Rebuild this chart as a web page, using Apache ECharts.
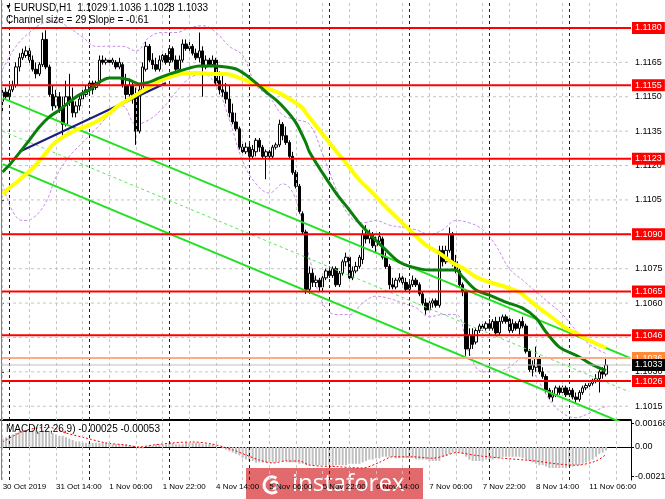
<!DOCTYPE html>
<html><head><meta charset="utf-8">
<script src="https://cdn.jsdelivr.net/npm/echarts@6.0.0/dist/echarts.min.js"></script>
<style>html,body{margin:0;padding:0;background:#fff;overflow:hidden}#chart{width:665px;height:499px}</style>
</head><body><div id="chart"></div>
<script>
const FONT = "'Liberation Sans',sans-serif";
const tickLabels = ['30 Oct 2019','31 Oct 14:00','1 Nov 06:00','1 Nov 22:00','4 Nov 14:00','5 Nov 06:00','5 Nov 22:00','6 Nov 14:00','7 Nov 06:00','7 Nov 22:00','8 Nov 14:00','11 Nov 06:00'];
const priceTicks = [1.1015,1.1030,1.1045,1.1060,1.1075,1.1090,1.1105,1.1120,1.1135,1.1150,1.1165,1.1180];
const macdTicks = [0.00168, 0, -0.00211];
const levels = [1.1180,1.1155,1.1123,1.1090,1.1065,1.1046,1.1026];
const channelLevel = 1.1036;
const lastPrice = 1.1033;
const dayStarts = [2,26,50,74,98,122,146,170];
const gridBars = [0,8,16,24,32,40,48,56,64,72,80,88,96,104,112,120,128,136,144,152,160,168,176,184];

const opens = [1.1148,1.1152,1.1150,1.1153,1.1155,1.1163,1.1167,1.1168,1.1170,1.1166,
1.1162,1.1160,1.1164,1.1175,1.1163,1.1151,1.1146,1.1150,1.1145,1.1138,
1.1150,1.1148,1.1143,1.1146,1.1149,1.1151,1.1153,1.1156,1.1154,1.1156,
1.1166,1.1165,1.1166,1.1165,1.1165,1.1163,1.1164,1.1155,1.1151,1.1155,
1.1150,1.1135,1.1153,1.1162,1.1172,1.1166,1.1164,1.1162,1.1166,1.1168,
1.1165,1.1171,1.1166,1.1162,1.1166,1.1173,1.1171,1.1172,1.1169,1.1167,
1.1170,1.1163,1.1166,1.1164,1.1166,1.1157,1.1153,1.1152,1.1149,1.1143,
1.1139,1.1136,1.1128,1.1126,1.1128,1.1124,1.1126,1.1131,1.1128,1.1124,
1.1126,1.1124,1.1128,1.1129,1.1138,1.1133,1.1130,1.1124,1.1117,1.1111,
1.1099,1.1091,1.1066,1.1073,1.1069,1.1070,1.1067,1.1071,1.1074,1.1072,
1.1075,1.1068,1.1073,1.1078,1.1080,1.1071,1.1074,1.1076,1.1079,1.1090,
1.1088,1.1090,1.1085,1.1087,1.1088,1.1080,1.1076,1.1068,1.1067,1.1070,
1.1071,1.1069,1.1066,1.1068,1.1070,1.1068,1.1064,1.1060,1.1057,1.1060,
1.1061,1.1059,1.1083,1.1078,1.1083,1.1090,1.1078,1.1074,1.1068,1.1065,
1.1040,1.1046,1.1043,1.1048,1.1050,1.1049,1.1051,1.1049,1.1052,1.1047,
1.1052,1.1054,1.1053,1.1048,1.1051,1.1049,1.1052,1.1050,1.1039,1.1031,
1.1032,1.1036,1.1030,1.1028,1.1022,1.1019,1.1020,1.1023,1.1021,1.1023,
1.1020,1.1022,1.1019,1.1018,1.1021,1.1023,1.1024,1.1025,1.1026,1.1027,
1.1030,1.1029];
const highs = [1.1154,1.1154,1.1155,1.1157,1.1165,1.1169,1.1171,1.1172,1.1172,1.1168,
1.1165,1.1165,1.1178,1.1179,1.1164,1.1155,1.1153,1.1152,1.1150,1.1157,
1.1160,1.1154,1.1148,1.1151,1.1153,1.1155,1.1157,1.1157,1.1157,1.1168,
1.1168,1.1167,1.1167,1.1167,1.1166,1.1167,1.1165,1.1160,1.1158,1.1157,
1.1154,1.1155,1.1165,1.1174,1.1173,1.1169,1.1167,1.1168,1.1170,1.1169,
1.1172,1.1172,1.1168,1.1168,1.1175,1.1175,1.1174,1.1173,1.1171,1.1178,
1.1172,1.1168,1.1167,1.1168,1.1167,1.1161,1.1159,1.1156,1.1155,1.1147,
1.1143,1.1137,1.1130,1.1130,1.1130,1.1129,1.1132,1.1132,1.1129,1.1127,
1.1127,1.1129,1.1130,1.1140,1.1139,1.1137,1.1131,1.1126,1.1118,1.1112,
1.1100,1.1092,1.1076,1.1075,1.1072,1.1071,1.1072,1.1075,1.1076,1.1076,
1.1076,1.1074,1.1079,1.1082,1.1081,1.1076,1.1078,1.1081,1.1092,1.1094,
1.1092,1.1091,1.1089,1.1091,1.1089,1.1082,1.1077,1.1071,1.1071,1.1073,
1.1072,1.1071,1.1070,1.1072,1.1071,1.1069,1.1065,1.1062,1.1061,1.1062,
1.1062,1.1085,1.1085,1.1085,1.1093,1.1091,1.1081,1.1075,1.1069,1.1066,
1.1049,1.1049,1.1049,1.1051,1.1052,1.1052,1.1053,1.1053,1.1054,1.1054,
1.1055,1.1055,1.1054,1.1053,1.1052,1.1053,1.1054,1.1051,1.1040,1.1035,
1.1041,1.1037,1.1032,1.1029,1.1023,1.1022,1.1024,1.1024,1.1024,1.1024,
1.1023,1.1023,1.1021,1.1022,1.1024,1.1025,1.1026,1.1027,1.1029,1.1031,
1.1032,1.1036];
const lows = [1.1143,1.1149,1.1149,1.1152,1.1154,1.1161,1.1166,1.1167,1.1164,1.1161,
1.1158,1.1159,1.1163,1.1162,1.1150,1.1144,1.1145,1.1143,1.1132,1.1137,
1.1146,1.1141,1.1141,1.1144,1.1148,1.1150,1.1151,1.1151,1.1153,1.1155,
1.1164,1.1164,1.1164,1.1164,1.1162,1.1162,1.1154,1.1149,1.1150,1.1147,
1.1129,1.1134,1.1151,1.1161,1.1165,1.1162,1.1161,1.1161,1.1165,1.1164,
1.1164,1.1165,1.1161,1.1161,1.1165,1.1170,1.1170,1.1168,1.1166,1.1165,
1.1150,1.1162,1.1163,1.1163,1.1155,1.1151,1.1150,1.1147,1.1141,1.1138,
1.1135,1.1127,1.1125,1.1125,1.1123,1.1123,1.1124,1.1126,1.1123,1.1114,
1.1123,1.1123,1.1127,1.1128,1.1131,1.1129,1.1123,1.1116,1.1110,1.1099,
1.1090,1.1064,1.1064,1.1067,1.1067,1.1065,1.1065,1.1070,1.1071,1.1071,
1.1067,1.1067,1.1072,1.1076,1.1070,1.1070,1.1073,1.1075,1.1077,1.1086,
1.1086,1.1084,1.1082,1.1085,1.1079,1.1075,1.1066,1.1066,1.1066,1.1069,
1.1068,1.1065,1.1064,1.1067,1.1067,1.1063,1.1059,1.1055,1.1056,1.1058,
1.1058,1.1058,1.1076,1.1077,1.1082,1.1076,1.1073,1.1067,1.1063,1.1037,
1.1037,1.1040,1.1042,1.1047,1.1048,1.1048,1.1048,1.1048,1.1046,1.1046,
1.1051,1.1051,1.1047,1.1047,1.1048,1.1046,1.1049,1.1038,1.1030,1.1028,
1.1030,1.1029,1.1027,1.1021,1.1018,1.1017,1.1019,1.1020,1.1020,1.1019,
1.1019,1.1018,1.1016,1.1017,1.1020,1.1022,1.1023,1.1024,1.1025,1.1021,
1.1027,1.1028];
const closes = [1.1152,1.1150,1.1153,1.1155,1.1163,1.1167,1.1169,1.1170,1.1166,1.1162,
1.1160,1.1164,1.1175,1.1163,1.1151,1.1146,1.1150,1.1144,1.1138,1.1150,
1.1148,1.1143,1.1146,1.1149,1.1151,1.1153,1.1156,1.1153,1.1156,1.1166,
1.1165,1.1166,1.1165,1.1166,1.1163,1.1165,1.1155,1.1151,1.1155,1.1149,
1.1135,1.1153,1.1163,1.1172,1.1166,1.1164,1.1162,1.1166,1.1168,1.1165,
1.1171,1.1166,1.1162,1.1166,1.1173,1.1171,1.1172,1.1169,1.1167,1.1170,
1.1163,1.1166,1.1164,1.1166,1.1156,1.1153,1.1152,1.1149,1.1143,1.1139,
1.1136,1.1128,1.1126,1.1128,1.1124,1.1127,1.1131,1.1128,1.1124,1.1126,
1.1124,1.1128,1.1129,1.1138,1.1133,1.1130,1.1124,1.1117,1.1111,1.1100,
1.1091,1.1066,1.1073,1.1069,1.1070,1.1067,1.1071,1.1074,1.1072,1.1075,
1.1068,1.1073,1.1078,1.1080,1.1071,1.1074,1.1076,1.1080,1.1090,1.1088,
1.1090,1.1085,1.1087,1.1089,1.1080,1.1076,1.1068,1.1067,1.1070,1.1071,
1.1069,1.1066,1.1068,1.1070,1.1068,1.1064,1.1060,1.1057,1.1060,1.1061,
1.1059,1.1083,1.1078,1.1083,1.1090,1.1078,1.1074,1.1068,1.1065,1.1040,
1.1046,1.1042,1.1048,1.1050,1.1049,1.1051,1.1049,1.1052,1.1047,1.1052,
1.1054,1.1052,1.1048,1.1051,1.1049,1.1052,1.1050,1.1039,1.1031,1.1033,
1.1036,1.1030,1.1028,1.1022,1.1019,1.1020,1.1023,1.1021,1.1023,1.1020,
1.1022,1.1019,1.1018,1.1021,1.1023,1.1024,1.1025,1.1026,1.1027,1.1030,
1.1029,1.1033];

const maGreen = [[0,1.11172],[2,1.11202],[5,1.11255],[8,1.11311],[11,1.11368],[14,1.11412],[17,1.11442],[20,1.11477],[23,1.11508],[26,1.11529],[29,1.11564],[32,1.11582],[35,1.11582],[38,1.11573],[41,1.11556],[44,1.11564],[47,1.11582],[50,1.11599],[53,1.11612],[56,1.11625],[59,1.11634],[63,1.11634],[67,1.1163],[70,1.11621],[73,1.11595],[76,1.1156],[79,1.11521],[82,1.11486],[85,1.11442],[88,1.11386],[91,1.11298],[92,1.1126],[96,1.11167],[100,1.1108],[104,1.11006],[107,1.10949],[111,1.10888],[115,1.10831],[119,1.10779],[123,1.10757],[128,1.10744],[133,1.10744],[136,1.10744],[138,1.10714],[142,1.10657],[146,1.10635],[151,1.10604],[156,1.10578],[160,1.10535],[163,1.10474],[167,1.10408],[173,1.10365],[177,1.1033],[181,1.10306]];
const maYellow = [[0,1.11076],[2,1.11102],[5,1.11137],[9,1.11189],[12,1.11237],[15,1.1129],[18,1.11324],[22,1.11355],[26,1.11377],[29,1.11399],[32,1.11429],[35,1.11464],[38,1.1149],[41,1.11516],[44,1.11543],[47,1.11569],[50,1.11586],[53,1.11599],[56,1.11604],[59,1.11604],[63,1.11599],[67,1.11599],[71,1.11582],[75,1.1156],[79,1.11538],[83,1.11516],[87,1.11482],[90,1.11451],[91,1.11429],[95,1.11355],[99,1.11281],[103,1.11211],[107,1.11137],[111,1.1108],[115,1.11019],[119,1.10962],[123,1.10906],[127,1.10853],[131,1.10818],[135,1.10775],[138,1.10753],[142,1.10714],[146,1.10692],[151,1.1067],[155,1.10648],[158,1.10613],[161,1.10578],[165,1.10535],[169,1.10491],[173,1.10461],[177,1.1043],[181,1.10404]];
const bbUpper = [[0,1.1162],[4,1.1172],[8,1.1178],[12,1.1182],[16,1.1183],[20,1.1180],[24,1.1176],[28,1.1172],[32,1.1172],[36,1.1172],[40,1.1170],[44,1.1176],[48,1.1178],[52,1.1178],[56,1.1180],[60,1.1181],[64,1.1178],[68,1.1172],[72,1.1168],[76,1.1155],[80,1.1150],[84,1.1142],[88,1.1140],[92,1.1138],[96,1.1125],[100,1.1110],[104,1.1098],[108,1.1095],[112,1.1096],[116,1.1094],[120,1.1093],[124,1.1092],[128,1.1090],[132,1.1092],[136,1.1096],[140,1.1095],[144,1.1092],[148,1.1085],[152,1.1075],[156,1.1070],[160,1.1065],[164,1.1060],[168,1.1055],[172,1.1048],[176,1.1042],[181,1.1038]];
const bbLower = [[0,1.1112],[3,1.1100],[6,1.1096],[9,1.1097],[13,1.1104],[16,1.1115],[20,1.1124],[24,1.1130],[28,1.1136],[32,1.1142],[36,1.1146],[40,1.1138],[44,1.1140],[48,1.1145],[52,1.1152],[56,1.1158],[60,1.1160],[64,1.1155],[68,1.1140],[72,1.1122],[76,1.1112],[80,1.1108],[84,1.1112],[88,1.1105],[92,1.1080],[96,1.1060],[100,1.1055],[104,1.1055],[108,1.1060],[112,1.1063],[116,1.1062],[120,1.1060],[124,1.1058],[128,1.1054],[132,1.1055],[136,1.1055],[140,1.1038],[144,1.1030],[148,1.1030],[152,1.1032],[156,1.1036],[160,1.1028],[164,1.1018],[168,1.1012],[172,1.1010],[176,1.1012],[181,1.1015]];
const trendLine = [[5,1.1126],[49,1.1156]];
const chanUpper = [[0,1.11494],[188,1.10362]];
const chanMid = [[0,1.11350],[188,1.10213]];
const chanLower = [[0,1.11206],[188,1.10065]];

const macdMain = [0.0006,0.0007,0.0008,0.0009,0.0010,0.0011,0.0011,0.0012,0.0012,0.0012,
0.0012,0.0011,0.0012,0.0012,0.0011,0.0010,0.0009,0.0008,0.0008,0.0007,
0.0006,0.0005,0.0004,0.0004,0.0003,0.0003,0.0003,0.0003,0.0003,0.0003,
0.0003,0.0003,0.0003,0.0002,0.0002,0.0002,0.0002,0.0002,0.0001,0.0001,
0.0000,-0.0001,-0.0001,0.0000,0.0001,0.0001,0.0002,0.0002,0.0002,0.0002,
0.0003,0.0003,0.0002,0.0002,0.0002,0.0003,0.0003,0.0003,0.0003,0.0003,
0.0002,0.0002,0.0002,0.0002,0.0001,0.0000,-0.0001,-0.0002,-0.0003,-0.0004,
-0.0005,-0.0006,-0.0008,-0.0009,-0.0010,-0.0010,-0.0011,-0.0011,-0.0011,-0.0011,
-0.0011,-0.0011,-0.0011,-0.0010,-0.0010,-0.0010,-0.0011,-0.0011,-0.0011,-0.0012,
-0.0012,-0.0013,-0.0013,-0.0013,-0.0013,-0.0013,-0.0013,-0.0013,-0.0013,-0.0014,
-0.0013,-0.0013,-0.0013,-0.0013,-0.0012,-0.0012,-0.0012,-0.0012,-0.0011,-0.0010,
-0.0009,-0.0009,-0.0008,-0.0008,-0.0007,-0.0007,-0.0007,-0.0007,-0.0008,-0.0008,
-0.0008,-0.0008,-0.0008,-0.0008,-0.0009,-0.0009,-0.0009,-0.0009,-0.0010,-0.0010,
-0.0010,-0.0010,-0.0007,-0.0006,-0.0005,-0.0004,-0.0004,-0.0004,-0.0005,-0.0007,
-0.0009,-0.0010,-0.0010,-0.0010,-0.0010,-0.0009,-0.0009,-0.0009,-0.0008,-0.0008,
-0.0007,-0.0007,-0.0007,-0.0007,-0.0007,-0.0007,-0.0008,-0.0009,-0.0010,-0.0011,
-0.0012,-0.0013,-0.0013,-0.0014,-0.0015,-0.0015,-0.0015,-0.0015,-0.0015,-0.0015,
-0.0014,-0.0014,-0.0013,-0.0013,-0.0012,-0.0011,-0.0010,-0.0009,-0.0007,-0.0005,
-0.0004,-0.00025];
const macdSignal = [[0,0.00036],[7,0.0012],[14,0.0014],[19,0.001],[25,0.00064],[31,0.00029],[37,0.00014],[41,0],[45,0.00014],[51,0.00029],[57,0.00036],[63,0.0002],[69,-0.0002],[73,-0.00057],[77,-0.00093],[81,-0.00114],[85,-0.001],[89,-0.001],[92,-0.00129],[100,-0.0014],[108,-0.0015],[113,-0.0011],[117,-0.0007],[123,-0.0007],[129,-0.0008],[133,-0.0006],[136,-0.0004],[142,-0.0006],[150,-0.0008],[160,-0.001],[166,-0.0012],[172,-0.0013],[178,-0.001],[181,-0.00053]];

const N = 189;
const cats = Array.from({length: N}, (_, i) => String(i));
const candles = opens.map((o, i) => [o, closes[i], lows[i], highs[i]]);

const vGrid = gridBars.map(i => ({xAxis: i, lineStyle: {color: '#c4c4c4', type: [3,3], width: 1}}))
  .concat(dayStarts.map(i => ({xAxis: i, lineStyle: {color: '#202020', type: [3,3], width: 1}})));

function vHelper(xi, yi) {
  return {type: 'line', xAxisIndex: xi, yAxisIndex: yi, data: [], silent: true, z: 1,
    markLine: {silent: true, symbol: ['none','none'], animation: false, label: {show: false},
      data: vGrid.map(m => Object.assign({}, m))}};
}
function hLine(v, color, width, type, z, labelBg) {
  const s = {type: 'line', xAxisIndex: 2, yAxisIndex: 0, data: [[0, v], [1, v]], showSymbol: false, silent: true, z: z,
    clip: false, lineStyle: {color: color, width: width, type: type}};
  if (labelBg) {
    s.endLabel = {show: true, distance: 1, formatter: () => v.toFixed(4), color: '#fff', backgroundColor: labelBg,
      padding: [1, 3, 0, 3], lineHeight: 11, fontSize: 9, fontFamily: FONT};
  }
  return s;
}
const hGridSeries = priceTicks.map(v => hLine(v, '#c4c4c4', 1, [3,3], 1, null));
const levelSeries = levels.map(v => hLine(v, '#ff0000', 2, 'solid', 9, '#ff0000'))
  .concat([hLine(channelLevel, '#ffa98a', 2, 'solid', 9, '#ff8a3a'), hLine(lastPrice, '#c0c0c0', 1, 'solid', 10, '#000000')]);

const chart = echarts.init(document.getElementById('chart'), null, {renderer: 'canvas'});
const option = {
  animation: false,
  backgroundColor: '#ffffff',
  textStyle: {fontFamily: FONT},
  grid: [
    {left: 1, right: 34, top: 0, height: 420, outerBoundsMode: 'none'},
    {left: 1, right: 34, top: 421, height: 59, outerBoundsMode: 'none'}
  ],
  xAxis: [
    {type: 'category', gridIndex: 0, data: cats, boundaryGap: true,
      axisLine: {show: true, lineStyle: {color: '#000', width: 2}}, axisTick: {show: false}, axisLabel: {show: false}, splitLine: {show: false}},
    {type: 'category', gridIndex: 1, data: cats, boundaryGap: true,
      axisLine: {show: true, lineStyle: {color: '#000', width: 1}},
      axisTick: {show: true, interval: 15, alignWithLabel: true, length: 3, lineStyle: {color: '#000'}},
      axisLabel: {show: true, interval: 15, align: 'left', margin: 3, fontSize: 8, color: '#000', fontFamily: FONT,
        showMinLabel: true, hideOverlap: false,
        formatter: (v, idx) => tickLabels[idx / 16] || ''},
      splitLine: {show: false}},
    {type: 'value', gridIndex: 0, min: 0, max: 1, show: false}
  ],
  yAxis: [
    {type: 'value', gridIndex: 0, position: 'right', min: 1.10090, max: 1.11922,
      axisLine: {show: true, lineStyle: {color: '#000'}},
      axisTick: {show: true, customValues: priceTicks, length: 3, lineStyle: {color: '#000'}},
      axisLabel: {show: true, customValues: priceTicks, formatter: v => v.toFixed(4), fontSize: 9, color: '#000', margin: 4, fontFamily: FONT},
      splitLine: {show: false}},
    {type: 'value', gridIndex: 1, position: 'right', min: -0.002357, max: 0.001857,
      axisLine: {show: true, lineStyle: {color: '#000'}},
      axisTick: {show: true, customValues: macdTicks, length: 3, lineStyle: {color: '#000'}},
      axisLabel: {show: true, customValues: macdTicks, formatter: v => (v === 0 ? '0.00' : v.toFixed(5)), fontSize: 9, color: '#000', margin: 4, fontFamily: FONT},
      splitLine: {show: false}}
  ],
  series: [
    vHelper(0, 0),
    vHelper(1, 1),
    ...hGridSeries,
    {type: 'line', xAxisIndex: 0, yAxisIndex: 0, data: bbUpper, showSymbol: false, smooth: 0.4, z: 2,
      lineStyle: {color: '#c98ce8', width: 1, type: [3,2]}},
    {type: 'line', xAxisIndex: 0, yAxisIndex: 0, data: bbLower, showSymbol: false, smooth: 0.4, z: 2,
      lineStyle: {color: '#c98ce8', width: 1, type: [3,2]}},
    {type: 'candlestick', xAxisIndex: 0, yAxisIndex: 0, data: candles, barWidth: 3, z: 4,
      itemStyle: {color: '#ffffff', color0: '#000000', borderColor: '#000000', borderColor0: '#000000', borderWidth: 1}},
    {type: 'line', xAxisIndex: 0, yAxisIndex: 0, data: chanMid, showSymbol: false, z: 5,
      lineStyle: {color: '#55e855', width: 1, type: [3,3]}},
    {type: 'line', xAxisIndex: 0, yAxisIndex: 0, data: chanUpper, showSymbol: false, z: 5,
      lineStyle: {color: '#22e022', width: 2}},
    {type: 'line', xAxisIndex: 0, yAxisIndex: 0, data: chanLower, showSymbol: false, z: 5,
      lineStyle: {color: '#22e022', width: 2}},
    {type: 'line', xAxisIndex: 0, yAxisIndex: 0, data: trendLine, showSymbol: false, z: 5,
      lineStyle: {color: '#1c1c7a', width: 2}},
    {type: 'line', xAxisIndex: 0, yAxisIndex: 0, data: maYellow, showSymbol: false, smooth: 0.3, z: 6,
      lineStyle: {color: '#ffff00', width: 4}},
    {type: 'line', xAxisIndex: 0, yAxisIndex: 0, data: maGreen, showSymbol: false, smooth: 0.3, z: 7,
      lineStyle: {color: '#0a800a', width: 3}},
    ...levelSeries,
    {type: 'bar', xAxisIndex: 1, yAxisIndex: 1, data: macdMain, barWidth: 2, z: 3,
      itemStyle: {color: '#c0c0c0'}},
    {type: 'line', xAxisIndex: 1, yAxisIndex: 1, data: macdSignal, showSymbol: false, smooth: 0.3, z: 4,
      lineStyle: {color: '#ff0000', width: 1, type: [2,2]}}
  ],
  graphic: [
    {type: 'line', shape: {x1: 1.5, y1: 0, x2: 1.5, y2: 480}, style: {stroke: '#808080', lineWidth: 1}, z: 10},
    {type: 'text', x: 5, y: 4, style: {text: '\u25BC', fontSize: 7, fill: '#000'}, z: 10},
    {type: 'text', x: 14, y: 3, style: {text: 'EURUSD,H1  1.1029 1.1036 1.1028 1.1033', fontSize: 10, fontFamily: FONT, fill: '#000'}, z: 10},
    {type: 'text', x: 6, y: 15, style: {text: 'Channel size = 29 Slope = -0.61', fontSize: 10, fontFamily: FONT, fill: '#000'}, z: 10},
    {type: 'text', x: 6, y: 424, style: {text: 'MACD(12,26,9) -0.00025 -0.00053', fontSize: 10, fontFamily: FONT, fill: '#000'}, z: 10},
    {type: 'group', z: 20, children: [
      {type: 'rect', shape: {x: 246, y: 468, width: 177, height: 32}, style: {fill: '#e26a6c'}},
      {type: 'arc', shape: {cx: 272, cy: 485, r: 8, startAngle: 0.9, endAngle: 5.3}, style: {stroke: '#fff', lineWidth: 3, fill: null}},
      {type: 'arc', shape: {cx: 274, cy: 485, r: 3.5, startAngle: 3.6, endAngle: 8.5}, style: {stroke: '#fff', lineWidth: 2.5, fill: null}},
      {type: 'text', x: 292, y: 472, style: {text: 'instaforex', fontSize: 24, fontFamily: "'Open Sans', sans-serif", fill: '#ffffff'}}
    ]}
  ]
};
chart.setOption(option);
</script>
</body></html>
